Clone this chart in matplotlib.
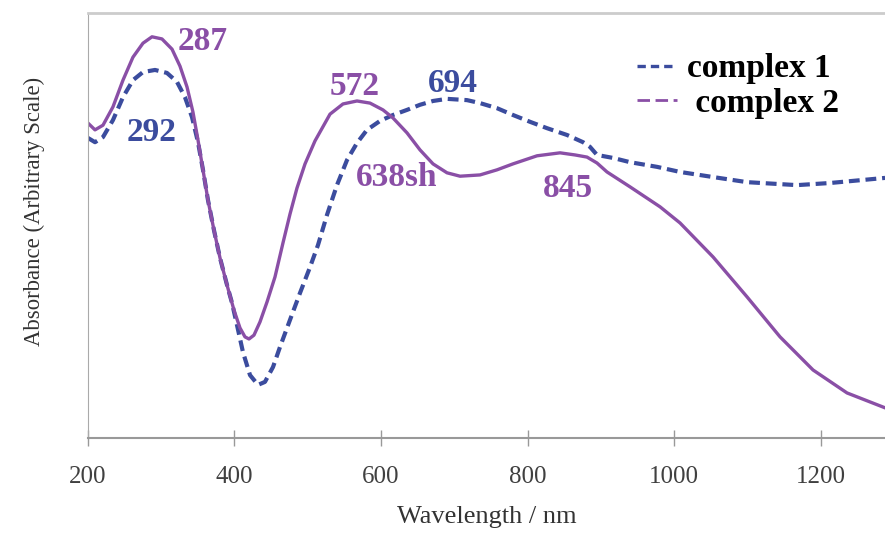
import matplotlib
matplotlib.use("Agg")
import matplotlib.pyplot as plt
from matplotlib.lines import Line2D

# complex 2 (solid purple)
wl_2 = [200.0, 209.6, 220.5, 234.1, 247.8, 261.4, 275.1, 287.4, 301.0, 314.7,
        325.6, 335.2, 343.3, 350.2, 357.0, 363.8, 372.0, 380.2, 389.8, 399.3,
        407.5, 414.3, 419.8, 426.6, 434.8, 444.4, 455.3, 466.2, 475.8, 485.3,
        496.3, 509.9, 530.4, 548.1, 567.2, 585.0, 602.7, 616.4, 635.5, 653.2,
        671.0, 690.1, 707.9, 735.2, 758.4, 780.2, 813.0, 844.4, 864.9, 881.2,
        894.9, 908.5, 939.9, 980.9, 1008.2, 1053.3, 1099.7, 1144.7, 1189.8,
        1236.2, 1288.1]
abs_2 = [0.741, 0.725, 0.736, 0.779, 0.842, 0.896, 0.929, 0.944, 0.939, 0.915,
         0.875, 0.826, 0.767, 0.701, 0.631, 0.560, 0.489, 0.424, 0.360, 0.301,
         0.259, 0.238, 0.233, 0.242, 0.273, 0.320, 0.379, 0.459, 0.527, 0.588,
         0.645, 0.699, 0.762, 0.786, 0.793, 0.788, 0.772, 0.753, 0.718, 0.678,
         0.645, 0.624, 0.616, 0.619, 0.631, 0.645, 0.664, 0.671, 0.666, 0.661,
         0.647, 0.626, 0.591, 0.544, 0.506, 0.426, 0.332, 0.238, 0.160,
         0.106, 0.071]

# complex 1 (dashed blue)
wl_1 = [200.0, 209.6, 220.5, 234.1, 247.8, 261.4, 275.1, 291.5, 307.8, 321.5,
        332.4, 342.0, 350.2, 357.0, 363.8, 372.0, 380.2, 389.8, 396.6, 403.4,
        411.6, 421.2, 432.1, 441.6, 452.6, 462.1, 475.8, 489.4, 503.1, 514.0,
        526.3, 539.9, 553.6, 567.2, 580.9, 598.6, 616.4, 635.5, 653.2, 671.0,
        690.1, 717.4, 735.2, 758.4, 780.2, 803.4, 826.6, 853.9, 875.8, 885.3,
        894.9, 916.7, 939.9, 976.8, 1008.2, 1053.3, 1099.7, 1167.9, 1213.0,
        1244.4, 1288.1]
abs_1 = [0.706, 0.696, 0.708, 0.748, 0.802, 0.842, 0.861, 0.866, 0.859, 0.838,
         0.802, 0.755, 0.696, 0.631, 0.560, 0.489, 0.424, 0.360, 0.318, 0.266,
         0.202, 0.148, 0.125, 0.132, 0.167, 0.214, 0.278, 0.341, 0.402, 0.454,
         0.525, 0.595, 0.654, 0.694, 0.725, 0.746, 0.760, 0.772, 0.784, 0.793,
         0.798, 0.795, 0.788, 0.776, 0.760, 0.744, 0.729, 0.713, 0.696, 0.685,
         0.666, 0.659, 0.649, 0.638, 0.626, 0.614, 0.602, 0.595, 0.600,
         0.605, 0.612]

# peak labels
peak_text = ["287", "292", "572", "694", "638sh", "845"]
peak_x = [356, 287, 564, 698, 622, 855]
peak_y = [0.934, 0.720, 0.828, 0.835, 0.614, 0.586]
peak_series = [2, 1, 2, 1, 2, 2]

purple = "#8a4fa6"
blue = "#3b4c9e"
serif = ["Liberation Serif", "DejaVu Serif"]

fig = plt.figure(figsize=(8.85, 5.35), dpi=100)
ax = fig.add_axes([0.0994, 0.1813, 0.9006, 0.7944])

ax.plot(wl_1, abs_1, color=blue, lw=3.0, linestyle=(0, (2.6, 1.4)))
ax.plot(wl_2, abs_2, color=purple, lw=2.4, solid_joinstyle="round")

for t, x, y, s in zip(peak_text, peak_x, peak_y, peak_series):
    ax.text(x, y, t, color=purple if s == 2 else blue, fontsize=24,
            fontweight="bold", family=serif, ha="center", va="center")

handles = [Line2D([], [], color=blue, lw=2.4, linestyle=(0, (2.5, 1.5))),
           Line2D([], [], color=purple, lw=2.0, linestyle=(0, (4.5, 2)))]
ax.legend(handles, ["complex 1", " complex 2"], loc="upper left",
          bbox_to_anchor=(0.689, 0.905), frameon=False, borderpad=0,
          borderaxespad=0, handlelength=1.2, handletextpad=0.3,
          labelspacing=0.1,
          prop={"family": serif, "weight": "bold", "size": 24})

ax.set_xlim(200, 1288)
ax.set_ylim(0, 1)
ax.set_xticks([200, 400, 600, 800, 1000, 1200])
ax.set_yticks([])
ax.tick_params(axis="x", direction="inout", length=12, width=1.0,
               color="#999999", labelsize=18, labelcolor="#404040", pad=14)
for lab in ax.get_xticklabels():
    lab.set_family(serif)

ax.spines["right"].set_visible(False)
ax.spines["left"].set_color("#aaaaaa")
ax.spines["bottom"].set_color("#999999")
ax.spines["top"].set_color("#cccccc")
ax.spines["top"].set_linewidth(2)
ax.spines["bottom"].set_linewidth(1.5)

# kept just inside the bottom edge
ax.set_xlabel("Wavelength / nm", family=serif, fontsize=19, color="#333333",
              labelpad=13)
ax.set_ylabel("Absorbance (Arbitrary Scale)", family=serif, fontsize=16.4,
              color="#333333")
ax.yaxis.set_label_coords(-0.054, 0.532)

fig.savefig("out.png", dpi=100)
